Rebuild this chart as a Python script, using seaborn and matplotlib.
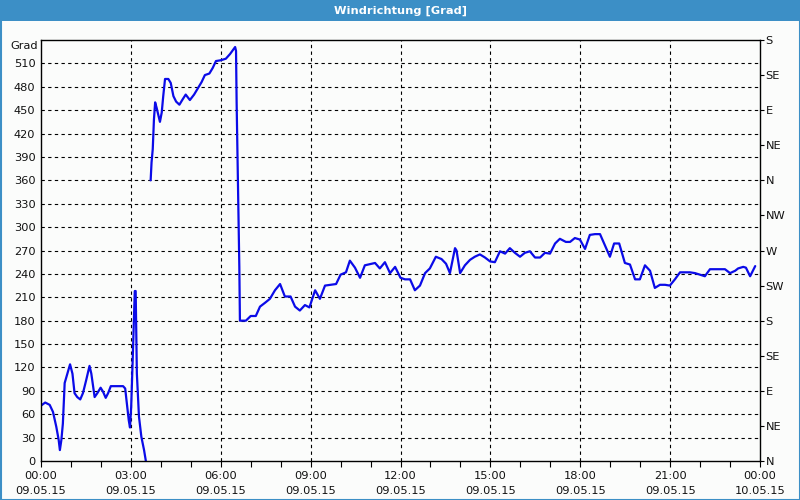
import numpy as np
import pandas as pd
import matplotlib
matplotlib.use("Agg")
import matplotlib.pyplot as plt
from matplotlib.patches import Rectangle
from matplotlib.ticker import MultipleLocator
import seaborn as sns

# ---- data (hours since 09.05.15 00:00, direction in degrees, unwrapped) ----
seg1_hours = [0.0, 0.14, 0.29, 0.40, 0.51, 0.59, 0.63, 0.68, 0.73, 0.79, 0.88, 0.97,
              1.05, 1.12, 1.21, 1.31, 1.40, 1.51, 1.62, 1.68, 1.79, 1.88, 1.99, 2.07,
              2.16, 2.24, 2.33, 2.74, 2.81, 2.88, 2.93, 2.97, 3.01, 3.06, 3.13, 3.16,
              3.20, 3.27, 3.35, 3.44, 3.50]
seg1_deg = [71, 75, 72, 63, 44, 27, 14, 27, 48, 100, 112, 124,
            112, 87, 82, 79, 87, 104, 122, 112, 82, 87, 94, 89,
            81, 87, 96, 96, 93, 69, 52, 43, 69, 129, 218, 218,
            112, 57, 31, 14, 0]

seg2_hours = [3.66, 3.69, 3.73, 3.77, 3.81, 3.86, 3.92, 3.97, 4.03, 4.08, 4.14, 4.25,
              4.33, 4.42, 4.51, 4.62, 4.73, 4.83, 4.97, 5.11, 5.25, 5.36, 5.47, 5.62,
              5.73, 5.84, 6.00, 6.17, 6.31, 6.48, 6.51, 6.53, 6.56, 6.59, 6.62, 6.64,
              6.84, 7.00, 7.17, 7.31, 7.48, 7.64, 7.81, 7.98, 8.14, 8.33, 8.48, 8.64,
              8.81, 8.96, 9.15, 9.31, 9.48, 9.85, 10.00, 10.18, 10.31, 10.48, 10.65, 10.81,
              11.04, 11.15, 11.31, 11.48, 11.65, 11.82, 12.00, 12.15, 12.32, 12.48, 12.65, 12.82,
              12.98, 13.18, 13.37, 13.52, 13.65, 13.82, 13.87, 13.99, 14.15, 14.32, 14.48, 14.65,
              14.82, 14.99, 15.15, 15.32, 15.49, 15.65, 15.82, 15.99, 16.15, 16.32, 16.49, 16.66,
              16.82, 16.99, 17.16, 17.32, 17.52, 17.66, 17.82, 17.99, 18.16, 18.32, 18.49, 18.66,
              18.83, 18.99, 19.13, 19.30, 19.49, 19.66, 19.83, 19.99, 20.16, 20.33, 20.49, 20.66,
              20.83, 20.99, 21.16, 21.33, 21.49, 21.66, 21.83, 22.00, 22.16, 22.33, 22.50, 22.66,
              22.83, 23.00, 23.17, 23.27, 23.44, 23.53, 23.67, 23.84]
seg2_deg = [360, 383, 400, 438, 460, 453, 443, 435, 447, 468, 490, 490,
            485, 468, 461, 457, 464, 470, 463, 470, 479, 486, 495, 497,
            504, 513, 514, 516, 522, 531, 526, 460, 392, 321, 249, 180,
            180, 186, 186, 198, 203, 208, 219, 227, 211, 211, 198, 193,
            200, 197, 219, 208, 225, 227, 239, 242, 257, 248, 235, 251,
            253, 254, 247, 255, 241, 249, 235, 233, 233, 219, 225, 241,
            247, 262, 259, 253, 241, 273, 270, 241, 251, 258, 262, 265,
            261, 256, 255, 269, 266, 273, 267, 262, 267, 269, 261, 261,
            267, 266, 279, 285, 281, 281, 286, 284, 272, 290, 291, 291,
            276, 262, 279, 279, 254, 252, 233, 233, 251, 244, 222, 226,
            226, 225, 233, 242, 242, 242, 241, 239, 237, 246, 246, 246,
            246, 241, 244, 247, 249, 248, 237, 250]

x_tick_hours = [0, 3, 6, 9, 12, 15, 18, 21, 24]
x_tick_labels = ["00:00\n09.05.15", "03:00\n09.05.15", "06:00\n09.05.15", "09:00\n09.05.15",
                 "12:00\n09.05.15", "15:00\n09.05.15", "18:00\n09.05.15", "21:00\n09.05.15",
                 "00:00\n10.05.15"]
y_ticks = list(range(0, 511, 30))
compass_ticks = list(range(0, 541, 45))
compass_labels = ["N", "NE", "E", "SE", "S", "SW", "W", "NW", "N", "NE", "E", "SE", "S"]
title = "Windrichtung [Grad]"
unit_label = "Grad"

df = pd.DataFrame({
    "hour": seg1_hours + seg2_hours,
    "deg": seg1_deg + seg2_deg,
    "segment": [1] * len(seg1_hours) + [2] * len(seg2_hours),
})

# ---- style ----
sns.set_theme(style="white")
plt.rcParams["font.family"] = ["DejaVu Sans"]
bg = "#FBFCFB"
bar_blue = "#3C8FC6"

fig = plt.figure(figsize=(8, 5), dpi=100, facecolor=bg)
ax = fig.add_axes([41 / 800, 1 - 461 / 500, (760 - 41) / 800, (461 - 40) / 500])
ax.set_facecolor(bg)

sns.lineplot(data=df, x="hour", y="deg", units="segment", estimator=None,
             color="#0B0BE8", linewidth=1.6, ax=ax, legend=False)

ax.set_xlim(0, 24)
ax.set_ylim(0, 540)
ax.set_xlabel("")
ax.set_ylabel("")

ax.set_xticks(x_tick_hours)
ax.set_xticklabels(x_tick_labels, fontsize=8.2, color="#111111", linespacing=1.6)
ax.xaxis.set_minor_locator(MultipleLocator(1))
ax.tick_params(axis="x", which="both", direction="out", length=4, width=0.8,
               color="black", bottom=True, pad=3)
ax.set_yticks(y_ticks)
ax.set_yticklabels([str(v) for v in y_ticks], fontsize=8.2, color="#111111")
ax.tick_params(axis="y", length=0, pad=4, left=True)

for v in y_ticks[1:]:
    ax.axhline(v, color="black", linestyle=(0, (3, 3)), linewidth=0.8, zorder=1)
for h in x_tick_hours[1:-1]:
    ax.axvline(h, color="black", linestyle=(0, (3, 3)), linewidth=0.8, zorder=1)

for s in ax.spines.values():
    s.set_color("black")
    s.set_linewidth(1.0)

ax2 = ax.twinx()
ax2.set_ylim(0, 540)
ax2.set_yticks(compass_ticks)
ax2.set_yticklabels(compass_labels, fontsize=8.2, color="#111111")
ax2.tick_params(axis="y", direction="out", length=3, width=0.8, color="black",
                right=True, pad=1)
ax2.grid(False)
for s in ax2.spines.values():
    s.set_visible(False)

# unit label above the left axis
fig.text(38 / 800, 1 - 46 / 500, unit_label, ha="right", va="center",
         fontsize=8.2, color="#111111")

# title bar
fig.patches.append(Rectangle((0, 1 - 21 / 500), 1, 21 / 500, transform=fig.transFigure,
                             facecolor=bar_blue, edgecolor="none", zorder=0))
fig.text(0.5, 1 - 10.5 / 500, title, ha="center", va="center", fontsize=8.2,
         fontweight="bold", color="white")
# outer border
fig.patches.append(Rectangle((0.5 / 800, 0.5 / 500), 799 / 800, 499 / 500,
                             transform=fig.transFigure, facecolor="none",
                             edgecolor=bar_blue, linewidth=1.5, zorder=5))

fig.savefig("out.png", dpi=100, facecolor=bg)
